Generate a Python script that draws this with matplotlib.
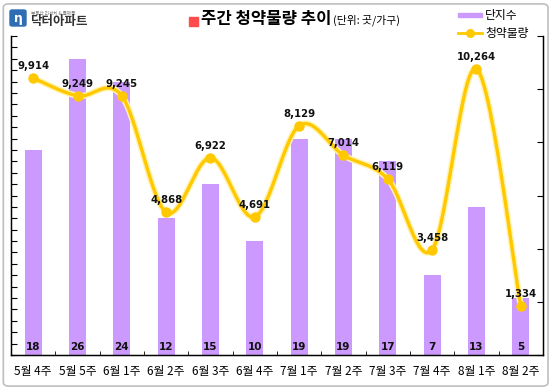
import matplotlib.pyplot as plt
import numpy as np
from matplotlib.patches import FancyBboxPatch, Rectangle
from matplotlib.lines import Line2D

plt.rcParams['font.family'] = ['Noto Sans CJK KR', 'DejaVu Sans']

# ---------------------------------------------------
# data
# ---------------------------------------------------
weeks = ["5월 4주", "5월 5주", "6월 1주", "6월 2주", "6월 3주", "6월 4주",
         "7월 1주", "7월 2주", "7월 3주", "7월 4주", "8월 1주", "8월 2주"]
complexes = [18, 26, 24, 12, 15, 10, 19, 19, 17, 7, 13, 5]
supply = [9914, 9249, 9245, 4868, 6922, 4691, 8129, 7014, 6119, 3458, 10264, 1334]

bar_color = "#CC99FF"
line_color = "#FFC800"


def smooth(xs, ys, n=30):
    # excel-style smoothed line (catmull-rom as cubic bezier)
    xs = np.asarray(xs, float)
    ys = np.asarray(ys, float)
    px = np.concatenate([[xs[0]], xs, [xs[-1]]])
    py = np.concatenate([[ys[0]], ys, [ys[-1]]])
    outx, outy = [], []
    t = np.linspace(0, 1, n)
    for i in range(1, len(px) - 2):
        p0 = np.array([px[i], py[i]])
        p3 = np.array([px[i + 1], py[i + 1]])
        p1 = p0 + (np.array([px[i + 1], py[i + 1]]) - np.array([px[i - 1], py[i - 1]])) / 6
        p2 = p3 - (np.array([px[i + 2], py[i + 2]]) - np.array([px[i], py[i]])) / 6
        b = ((1 - t) ** 3)[:, None] * p0 + (3 * (1 - t) ** 2 * t)[:, None] * p1 \
            + (3 * (1 - t) * t ** 2)[:, None] * p2 + (t ** 3)[:, None] * p3
        outx.extend(b[:, 0])
        outy.extend(b[:, 1])
    return outx, outy


fig = plt.figure(figsize=(5.53, 3.9), dpi=100)

# outer frame
fig.patches.append(FancyBboxPatch((0.006, 0.01), 0.985, 0.98,
                                  boxstyle="round,pad=0,rounding_size=0.01",
                                  transform=fig.transFigure, fill=False,
                                  edgecolor="#BFBFBF", linewidth=1.2))

ax = fig.add_axes([0.0199, 0.0897, 0.962, 0.818])
x = np.arange(len(weeks))

ax.bar(x, complexes, width=0.38, color=bar_color, zorder=1)
for xi, v in zip(x, complexes):
    ax.text(xi, 0.7, str(v), ha="center", va="center", fontsize=7.5,
            fontweight="bold", color="#111111", family="DejaVu Sans", zorder=5)

ax.set_ylim(0, 28)
ax.set_xlim(-0.5, len(weeks) - 0.5)
ax.set_yticks(range(0, 29))
ax.set_yticklabels([])
ax.set_xticks(x)
ax.set_xticklabels(weeks, fontsize=8.5)
ax.set_xticks(np.arange(0.5, len(weeks) - 0.5), minor=True)
ax.tick_params(axis="x", which="major", length=0, pad=7)
ax.tick_params(axis="x", which="minor", direction="in", length=3)
ax.tick_params(axis="y", direction="in", length=4, width=0.8)
ax.spines["top"].set_visible(False)
for s in ["left", "bottom"]:
    ax.spines[s].set_linewidth(1.0)

ax2 = ax.twinx()
ax2.set_ylim(-500, 11500)
ax2.set_yticks(np.arange(-500, 11501, 2000))
ax2.set_yticklabels([])
ax2.tick_params(axis="y", direction="in", length=4, width=0.8)
ax2.spines["top"].set_visible(False)
ax2.spines["right"].set_linewidth(1.0)

sx, sy = smooth(x, supply)
ax2.plot(sx, sy, color="#FFF3B0", linewidth=4.5, solid_capstyle="round", zorder=2)
ax2.plot(sx, sy, color=line_color, linewidth=2.4, solid_capstyle="round", zorder=3)
ax2.plot(x, supply, "o", color=line_color, markersize=6.5, zorder=4)
for xi, v in zip(x, supply):
    ax2.annotate(f"{v:,}", (xi, v), xytext=(0, 5), textcoords="offset points",
                 ha="center", va="bottom", fontsize=7.3, fontweight="bold",
                 family="DejaVu Sans", color="#111111")

# title
fig.patches.append(Rectangle((189 / 553, 1 - 26 / 390), 9 / 553, 9 / 390,
                             transform=fig.transFigure, color="#FF4B4B"))
fig.text(201 / 553, 1 - 19 / 390, "주간 청약물량 추이", fontsize=12,
         fontweight="bold", va="center", ha="left")
fig.text(333 / 553, 1 - 20 / 390, "(단위: 곳/가구)", fontsize=7.8,
         va="center", ha="left")

# legend
fig.patches.append(Rectangle((458 / 553, 1 - 17 / 390), 24 / 553, 4.5 / 390,
                             transform=fig.transFigure, color=bar_color))
fig.text(485 / 553, 1 - 15 / 390, "단지수", fontsize=8.5, va="center", ha="left")
fig.lines.append(Line2D([458 / 553, 482 / 553], [1 - 33 / 390] * 2,
                        transform=fig.transFigure, color=line_color, linewidth=2))
fig.lines.append(Line2D([470 / 553], [1 - 33 / 390], transform=fig.transFigure,
                        marker="o", color=line_color, markersize=5.5))
fig.text(485 / 553, 1 - 33 / 390, "청약물량", fontsize=8.5, va="center", ha="left")

# logo
fig.patches.append(FancyBboxPatch((10 / 553, 1 - 26 / 390), 16 / 553, 16 / 390,
                                  boxstyle="round,pad=0,rounding_size=0.004",
                                  transform=fig.transFigure, color="#2F6DB5"))
fig.text(18 / 553, 1 - 18.5 / 390, "η", fontsize=9, fontweight="bold",
         color="white", ha="center", va="center", family="DejaVu Sans")
fig.text(31 / 553, 1 - 13 / 390, "부동산 리서치 & 플랫폼", fontsize=3.3,
         color="#777777", va="center", ha="left")
fig.text(30 / 553, 1 - 21 / 390, "닥터아파트", fontsize=9, fontweight="bold",
         color="#333333", va="center", ha="left")

fig.savefig("out.png", dpi=100)
